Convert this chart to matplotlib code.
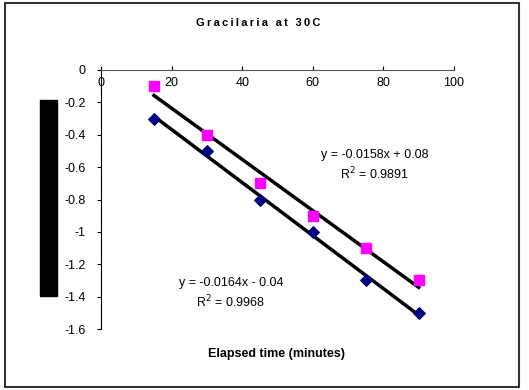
import numpy as np
import matplotlib.pyplot as plt
from matplotlib.patches import Rectangle
from matplotlib.ticker import FuncFormatter

plt.rcParams['font.family'] = ['Liberation Sans', 'DejaVu Sans']

# data
time_min = [15, 30, 45, 60, 75, 90]
series_blue = [-0.3, -0.5, -0.8, -1.0, -1.3, -1.5]
series_pink = [-0.1, -0.4, -0.7, -0.9, -1.1, -1.3]
eq_blue = ["y = -0.0164x - 0.04", "R$^2$ = 0.9968"]
eq_pink = ["y = -0.0158x + 0.08", "R$^2$ = 0.9891"]
x_ticks = [0, 20, 40, 60, 80, 100]
y_ticks = [0, -0.2, -0.4, -0.6, -0.8, -1, -1.2, -1.4, -1.6]
title = "Gracilaria at 30C"

fig = plt.figure(figsize=(5.29, 3.9), dpi=100)
ax = fig.add_axes([101/529, 1-329/390, 353/529, 259/390])

x = np.array(time_min)
for ys in (series_pink, series_blue):
    m, b = np.polyfit(x, ys, 1)
    ax.plot(x, m*x + b, color='black', lw=2.5, zorder=2)

ax.scatter(time_min, series_blue, marker='D', s=34, color='#000080', zorder=3)
ax.scatter(time_min, series_pink, marker='s', s=55, color='#FF00FF', zorder=3)

ax.set_xlim(0, 100)
ax.set_ylim(-1.6, 0)
ax.set_xticks(x_ticks)
ax.set_yticks(y_ticks)
ax.yaxis.set_major_formatter(FuncFormatter(lambda v, p: '%g' % v))

for s in ('right', 'bottom'):
    ax.spines[s].set_visible(False)
ax.spines['top'].set_color('#555555')
ax.spines['left'].set_color('black')

ax.tick_params(axis='x', top=True, bottom=False, labeltop=True, labelbottom=False,
               direction='out', length=3, pad=-17, labelsize=9)
ax.tick_params(axis='y', direction='out', length=3, labelsize=9, pad=8)

ax.text(77.6, -0.525, eq_pink[0], ha='center', va='center', fontsize=9)
ax.text(77.6, -0.642, eq_pink[1], ha='center', va='center', fontsize=9)
ax.text(36.8, -1.316, eq_blue[0], ha='center', va='center', fontsize=9)
ax.text(36.8, -1.433, eq_blue[1], ha='center', va='center', fontsize=9)

# letter-spaced bold title
spaced = '\u2009 \u2009'.join('\u2009'.join(w) for w in title.split(' '))
fig.text(258/529, 1-23/390, spaced, ha='center', va='center', fontsize=8, fontweight='bold')
fig.text(277/529, 1-354/390, 'Elapsed time (minutes)', ha='center', va='center',
         fontsize=9, fontweight='bold')

# black block where the y label sits
fig.patches.append(Rectangle((40/529, 1-296/390), 17/529, 196/390,
                             transform=fig.transFigure, color='black', figure=fig))
# outer frame
fig.patches.append(Rectangle((5/529, 1-387/390), 514/529, 384/390, transform=fig.transFigure,
                             fill=False, edgecolor='#333333', lw=1.5, figure=fig))

fig.savefig('out.png', dpi=100)
